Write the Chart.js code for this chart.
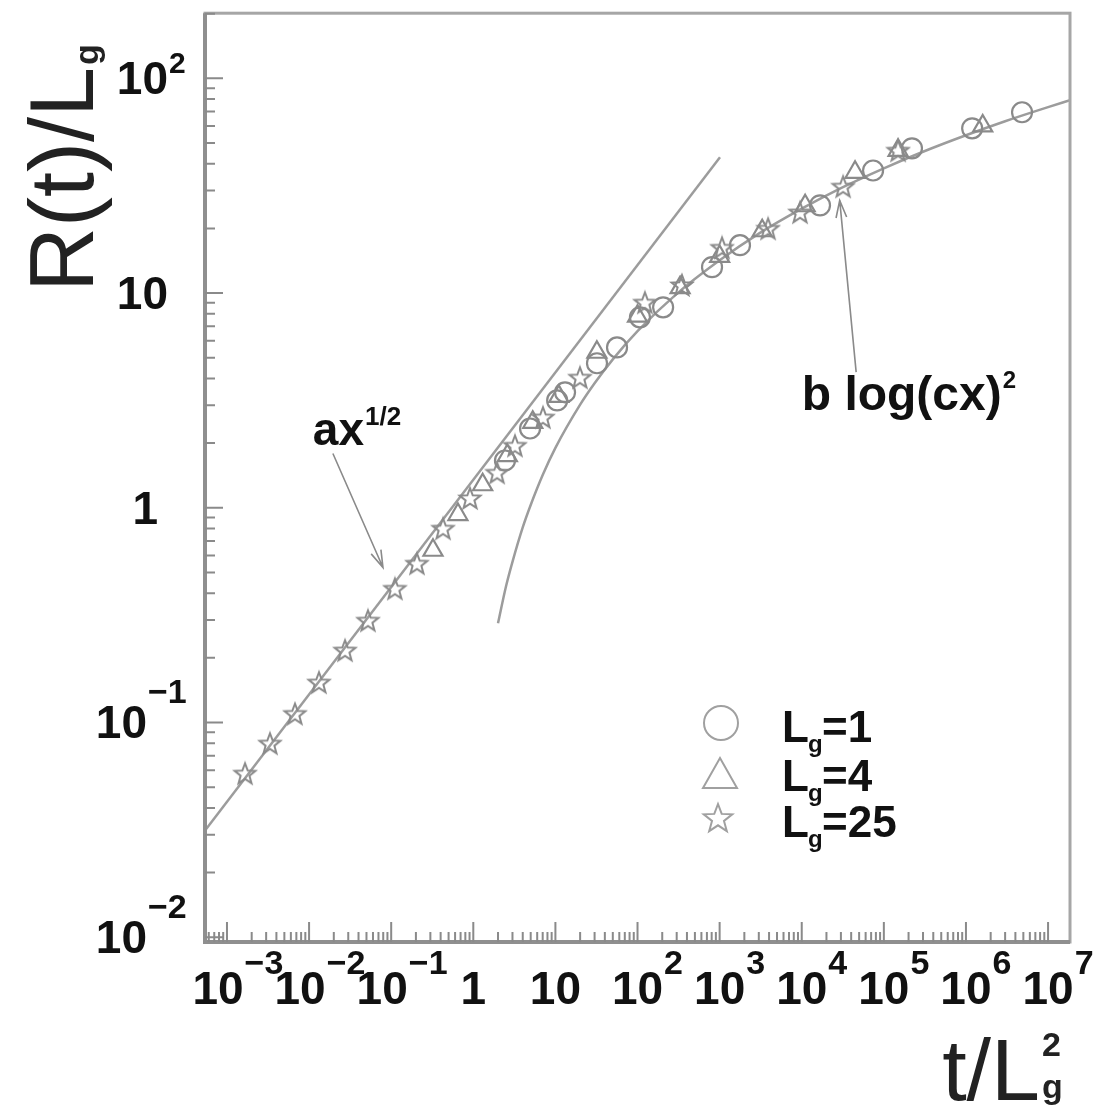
<!DOCTYPE html>
<html>
<head>
<meta charset="utf-8">
<script src="https://cdn.jsdelivr.net/npm/chart.js@4.4.0/dist/chart.umd.min.js"></script>
<style>
  html, body { margin: 0; padding: 0; background: #fff; }
  canvas { display: block; }
</style>
</head>
<body>
<canvas id="chart" width="1095" height="1111"></canvas>
<script>
// values: x = t/Lg^2, y = R(t)/Lg
const circleX = [2.43, 4.91, 10.5, 13.1, 32.1, 56.3, 107, 205, 808, 1770, 16700, 73900, 220000, 1190000, 4820000];
const circleY = [1.66, 2.34, 3.16, 3.45, 4.71, 5.58, 7.71, 8.58, 13.2, 16.7, 25.6, 37.2, 47.2, 58.5, 69.5];

const triX = [0.323, 0.65, 1.3, 2.6, 5.3, 11, 32, 100, 330, 1000, 3300, 11000, 44600, 149000, 1600000];
const triY = [0.634, 0.93, 1.28, 1.75, 2.5, 3.3, 5.3, 7.8, 10.6, 14.8, 19.5, 25.5, 36.5, 46.2, 60];

const starX = [0.00166, 0.00334, 0.00673, 0.0132, 0.0274, 0.0521, 0.111, 0.206, 0.428, 0.912, 1.95, 3.22, 7.06, 19.9, 123, 348, 1070, 3890, 9530, 31900, 149000];
const starY = [0.058, 0.080, 0.110, 0.154, 0.217, 0.299, 0.421, 0.551, 0.802, 1.11, 1.46, 1.95, 2.64, 4.05, 9.05, 10.9, 16.3, 20.0, 23.8, 31.4, 46.2];

// the two fitted curves
const sqrtFitX = [0.00054, 1010];
const sqrtFitY = [0.0314, 42.9];
const logFitX = [2.0, 2.5, 3, 4, 5, 7, 10, 20, 30, 50, 100, 300, 1000, 3000, 1e4, 3e4, 1e5, 3e5, 1e6, 3e6, 1e7, 1.85e7];
const logFitY = [0.29, 0.43, 0.56, 0.81, 1.03, 1.42, 1.90, 3.02, 3.80, 4.91, 6.64, 9.91, 14.2, 18.9, 24.7, 30.8, 38.1, 45.5, 54.3, 63.1, 73.4, 79.0];

// decade tick labels (powers of ten)
const xTickPowers = [-3, -2, -1, 0, 1, 2, 3, 4, 5, 6, 7];
const yTickPowers = [-2, -1, 0, 1, 2];

const legendLabels = ['1', '4', '25'];

const GREY = '#8a8a8a';
const LINE_GREY = '#9c9c9c';
const FONT = "'Liberation Sans', Arial, Helvetica, sans-serif";

function pts(xs, ys) {
    return xs.map((x, i) => ({ x: x, y: ys[i] }));
}

// hollow five-pointed star used as a point style
function makeStar(size, color, lw) {
    const c = document.createElement('canvas');
    c.width = size; c.height = size;
    const g = c.getContext('2d');
    const R = size / 2 - lw, r = R * 0.42;
    g.beginPath();
    for (let i = 0; i < 10; i++) {
        const a = -Math.PI / 2 + i * Math.PI / 5;
        const rr = i % 2 === 0 ? R : r;
        const px = size / 2 + rr * Math.cos(a), py = size / 2 + 1 + rr * Math.sin(a);
        if (i === 0) g.moveTo(px, py); else g.lineTo(px, py);
    }
    g.closePath();
    g.strokeStyle = color;
    g.lineWidth = lw;
    g.lineJoin = 'miter';
    g.stroke();
    return c;
}

const starImg = makeStar(26, GREY, 2);
const starLegendImg = makeStar(34, '#a0a0a0', 2);

function drawSup(ctx, base, exp, x, y, baseFont, expFont, expDy, align) {
    ctx.font = baseFont;
    const bw = ctx.measureText(base).width;
    let left = x;
    if (align === 'center') left = x - bw / 2;
    if (align === 'right') left = x - bw;
    ctx.textAlign = 'left';
    ctx.fillText(base, left, y);
    if (exp) {
        ctx.font = expFont;
        ctx.fillText(exp, left + bw + 1, y + expDy);
    }
}

function arrow(ctx, x1, y1, x2, y2) {
    ctx.beginPath();
    ctx.moveTo(x1, y1);
    ctx.lineTo(x2, y2);
    const a = Math.atan2(y2 - y1, x2 - x1);
    const L = 18, w = 0.3;
    ctx.moveTo(x2 - L * Math.cos(a - w), y2 - L * Math.sin(a - w));
    ctx.lineTo(x2, y2);
    ctx.lineTo(x2 - L * Math.cos(a + w), y2 - L * Math.sin(a + w));
    ctx.stroke();
}

const decor = {
    id: 'decor',
    afterDraw(chart) {
        const ctx = chart.ctx;
        const xs = chart.scales.x, ys = chart.scales.y;
        const a = chart.chartArea;
        ctx.save();

        // frame
        ctx.strokeStyle = '#a6a6a6';
        ctx.lineWidth = 3;
        ctx.strokeRect(a.left, a.top, a.right - a.left, a.bottom - a.top);
        ctx.strokeStyle = '#8f8f8f';
        ctx.lineWidth = 4;
        ctx.beginPath();
        ctx.moveTo(a.left, a.top); ctx.lineTo(a.left, a.bottom); ctx.lineTo(a.right, a.bottom);
        ctx.stroke();

        // ticks on the log axes
        ctx.strokeStyle = '#8a8a8a';
        ctx.lineWidth = 2;
        ctx.beginPath();
        for (let e = -4; e <= 7; e++) {
            for (let m = 1; m <= 9; m++) {
                const v = m * Math.pow(10, e);
                if (v < xs.min || v > xs.max) continue;
                const px = xs.getPixelForValue(v);
                ctx.moveTo(px, a.bottom);
                ctx.lineTo(px, a.bottom - (m === 1 ? 20 : 10));
            }
        }
        for (let e = -3; e <= 2; e++) {
            for (let m = 1; m <= 9; m++) {
                const v = m * Math.pow(10, e);
                if (v < ys.min || v > ys.max) continue;
                const py = ys.getPixelForValue(v);
                ctx.moveTo(a.left, py);
                ctx.lineTo(a.left + (m === 1 ? 18 : 10), py);
            }
        }
        ctx.stroke();

        // tick labels
        ctx.fillStyle = '#111';
        ctx.textBaseline = 'alphabetic';
        const bf = 'bold 46px ' + FONT, ef = 'bold 34px ' + FONT;
        xTickPowers.forEach(p => {
            const px = xs.getPixelForValue(Math.pow(10, p));
            if (p === 0) drawSup(ctx, '1', '', px, 1004, bf, ef, 0, 'center');
            else if (p === 1) drawSup(ctx, '10', '', px, 1004, bf, ef, 0, 'center');
            else drawSup(ctx, '10', (p < 0 ? '\u2212' : '') + Math.abs(p), px - (p < 0 ? 9 : 0), 1004, bf, ef, -30, 'center');
        });
        yTickPowers.forEach(p => {
            const py = ys.getPixelForValue(Math.pow(10, p));
            if (p === 0) drawSup(ctx, '1', '', 158, py + 16, bf, ef, 0, 'right');
            else if (p === 1) drawSup(ctx, '10', '', 168, py + 16, bf, ef, 0, 'right');
            else if (p > 0) drawSup(ctx, '10', String(p), 168, py + 16, bf, 'bold 30px ' + FONT, -21, 'right');
            else drawSup(ctx, '10', '\u2212' + Math.abs(p), 147, py + 16, bf, ef, -35, 'right');
        });

        // axis titles
        ctx.fillStyle = '#222';
        ctx.save();
        ctx.translate(93, 292);
        ctx.rotate(-Math.PI / 2);
        ctx.font = '90px ' + FONT;
        ctx.textAlign = 'left';
        ctx.fillText('R(t)/L', 0, 0);
        const tw = ctx.measureText('R(t)/L').width;
        ctx.font = 'bold 34px ' + FONT;
        ctx.fillText('g', tw + 2, 5);
        ctx.restore();

        ctx.font = '88px ' + FONT;
        ctx.textAlign = 'left';
        const w1 = ctx.measureText('t/L').width;
        ctx.fillText('t/L', 1040 - w1, 1100);
        ctx.font = 'bold 34px ' + FONT;
        ctx.fillText('2', 1042, 1056);
        ctx.fillText('g', 1042, 1098);

        // annotations, anchored in data coordinates
        ctx.strokeStyle = '#8a8a8a';
        ctx.lineWidth = 1.6;
        arrow(ctx, xs.getPixelForValue(0.0195), ys.getPixelForValue(1.79),
                   xs.getPixelForValue(0.0794), ys.getPixelForValue(0.527));
        arrow(ctx, xs.getPixelForValue(46000), ys.getPixelForValue(4.28),
                   xs.getPixelForValue(29000), ys.getPixelForValue(27));
        ctx.fillStyle = '#111';
        drawSup(ctx, 'ax', '1/2', xs.getPixelForValue(0.0111), ys.getPixelForValue(1.95),
                'bold 46px ' + FONT, 'bold 26px ' + FONT, -20, 'left');
        drawSup(ctx, 'b log(cx)', '2', xs.getPixelForValue(10000), ys.getPixelForValue(2.85),
                'bold 48px ' + FONT, 'bold 24px ' + FONT, -22, 'left');

        // legend
        const rows = [723, 772, 818];
        ctx.strokeStyle = '#a0a0a0';
        ctx.lineWidth = 2;
        ctx.beginPath();
        ctx.arc(721, rows[0], 17, 0, Math.PI * 2);
        ctx.stroke();
        ctx.beginPath();
        ctx.moveTo(703, rows[1] + 16); ctx.lineTo(737, rows[1] + 16); ctx.lineTo(720, rows[1] - 14); ctx.closePath();
        ctx.stroke();
        ctx.drawImage(starLegendImg, 701, rows[2] - 17);
        ctx.fillStyle = '#111';
        legendLabels.forEach((lab, i) => {
            const by = rows[i] + 19;
            ctx.font = 'bold 44px ' + FONT;
            ctx.fillText('L', 782, by);
            ctx.font = 'bold 24px ' + FONT;
            ctx.fillText('g', 808, by + 10);
            ctx.font = 'bold 44px ' + FONT;
            ctx.fillText('=' + lab, 822, by);
        });
        ctx.restore();
    }
};

new Chart(document.getElementById('chart'), {
    type: 'scatter',
    data: {
        datasets: [
            { label: 'ax^1/2', data: pts(sqrtFitX, sqrtFitY), showLine: true, pointRadius: 0,
              borderColor: LINE_GREY, borderWidth: 2.5, order: 3 },
            { label: 'b log(cx)^2', data: pts(logFitX, logFitY), showLine: true, pointRadius: 0,
              borderColor: LINE_GREY, borderWidth: 2.5, cubicInterpolationMode: 'monotone', order: 3 },
            { label: 'Lg=1', data: pts(circleX, circleY), pointStyle: 'circle', pointRadius: 10,
              borderColor: GREY, backgroundColor: 'rgba(0,0,0,0)', borderWidth: 2.2, order: 1 },
            { label: 'Lg=4', data: pts(triX, triY), pointStyle: 'triangle', pointRadius: 11,
              borderColor: GREY, backgroundColor: 'rgba(0,0,0,0)', borderWidth: 2.2, order: 1 },
            { label: 'Lg=25', data: pts(starX, starY), pointStyle: starImg, pointRadius: 12,
              borderColor: GREY, order: 1 }
        ]
    },
    options: {
        responsive: false,
        devicePixelRatio: 1,
        animation: false,
        layout: { padding: { left: 0, right: 25, top: 13, bottom: 0 } },
        plugins: { legend: { display: false }, tooltip: { enabled: false } },
        scales: {
            x: {
                type: 'logarithmic', min: 0.00054, max: 1.85e7,
                grid: { display: false }, border: { display: false },
                ticks: { display: false },
                afterFit(s) { s.height = 169; }
            },
            y: {
                type: 'logarithmic', min: 0.0095, max: 201,
                grid: { display: false }, border: { display: false },
                ticks: { display: false },
                afterFit(s) { s.width = 205; }
            }
        }
    },
    plugins: [decor]
});
</script>
</body>
</html>
